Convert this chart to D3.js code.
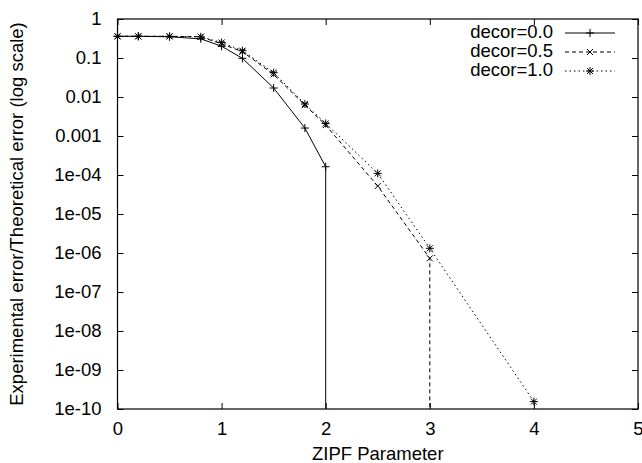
<!DOCTYPE html>
<html>
<head>
<meta charset="utf-8">
<script src="https://cdn.jsdelivr.net/npm/d3@7"></script>
<style>
  body { margin: 0; background: #fff; }
  svg { font-family: "Liberation Sans", Arial, sans-serif; }
</style>
</head>
<body>
<div id="chart"></div>
<script>
// values; a 0 means the curve drops to zero (off the log axis)
const xs0 = [0, 0.2, 0.5, 0.8, 1.0, 1.2, 1.5, 1.8, 2.0, 2.0];
const decor00 = [0.36, 0.36, 0.35, 0.31, 0.20, 0.098, 0.017, 0.0016, 1.63e-4, 0];

const xs05 = [0, 0.2, 0.5, 0.8, 1.0, 1.2, 1.5, 1.8, 2.0, 2.5, 3.0, 3.0];
const decor05 = [0.36, 0.36, 0.36, 0.35, 0.23, 0.145, 0.038, 0.0062, 0.0019, 5.2e-5, 7.3e-7, 0];

const xs10 = [0, 0.2, 0.5, 0.8, 1.0, 1.2, 1.5, 1.8, 2.0, 2.5, 3.0, 4.0];
const decor10 = [0.36, 0.36, 0.36, 0.35, 0.25, 0.154, 0.042, 0.0066, 0.0021, 1.1e-4, 1.32e-6, 1.55e-10];

const seriesNames = ["decor=0.0", "decor=0.5", "decor=1.0"];
const xTicks = [0, 1, 2, 3, 4, 5];
const yTicks = [1, 1e-1, 1e-2, 1e-3, 1e-4, 1e-5, 1e-6, 1e-7, 1e-8, 1e-9, 1e-10];
const yTickLabels = ["1", "0.1", "0.01", "0.001", "1e-04", "1e-05", "1e-06", "1e-07", "1e-08", "1e-09", "1e-10"];

const WIDTH = 642, HEIGHT = 463;
const LEFT = 117.5, RIGHT = 638, TOP = 19, BOTTOM = 409;
const TICK = 6;
const FONT = 18.5;

const series = [
    {name: seriesNames[0], xs: xs0, ys: decor00, dash: null, marker: "plus"},
    {name: seriesNames[1], xs: xs05, ys: decor05, dash: "4,3", marker: "cross"},
    {name: seriesNames[2], xs: xs10, ys: decor10, dash: "1.5,3", marker: "star"}
];

const x = d3.scaleLinear().domain([0, 5]).range([LEFT, RIGHT]);
const y = d3.scaleLog().domain([1e-10, 1]).range([BOTTOM, TOP]).clamp(true);

const svg = d3.select("#chart").append("svg")
    .attr("width", WIDTH)
    .attr("height", HEIGHT);

// axes with inward ticks, mirrored on top and right
const yLabel = d => yTickLabels[yTicks.indexOf(d)];

const gLeft = svg.append("g")
    .attr("transform", `translate(${LEFT},0)`)
    .call(d3.axisLeft(y).tickValues(yTicks).tickFormat(yLabel).tickSize(-TICK).tickPadding(16));
const gBottom = svg.append("g")
    .attr("transform", `translate(0,${BOTTOM})`)
    .call(d3.axisBottom(x).tickValues(xTicks).tickFormat(d3.format("d")).tickSize(-TICK).tickPadding(13));
const gRight = svg.append("g")
    .attr("transform", `translate(${RIGHT},0)`)
    .call(d3.axisRight(y).tickValues(yTicks).tickFormat("").tickSize(-TICK));
const gTop = svg.append("g")
    .attr("transform", `translate(0,${TOP})`)
    .call(d3.axisTop(x).tickValues(xTicks).tickFormat("").tickSize(-TICK));

[gLeft, gBottom, gRight, gTop].forEach(g => {
    g.select(".domain").remove();
    g.selectAll("line").attr("stroke", "#000");
    g.selectAll("text").attr("font-size", FONT).attr("fill", "#000")
        .attr("font-family", "Liberation Sans, Arial, sans-serif");
});

svg.append("rect")
    .attr("x", LEFT).attr("y", TOP)
    .attr("width", RIGHT - LEFT).attr("height", BOTTOM - TOP)
    .attr("fill", "none").attr("stroke", "#000").attr("stroke-width", 1.2);

// axis titles
svg.append("text")
    .attr("x", (LEFT + RIGHT) / 2).attr("y", 455)
    .attr("text-anchor", "middle").attr("dominant-baseline", "middle")
    .attr("font-size", FONT)
    .text("ZIPF Parameter");

svg.append("text")
    .attr("transform", `translate(18,${(TOP + BOTTOM) / 2}) rotate(-90)`)
    .attr("text-anchor", "middle").attr("dominant-baseline", "middle")
    .attr("font-size", FONT)
    .text("Experimental error/Theoretical error (log scale)");

function drawMarker(g, type, cx, cy) {
    const r = 4;
    const segs = [];
    if (type === "plus" || type === "star") {
        segs.push([cx - r, cy, cx + r, cy], [cx, cy - r, cx, cy + r]);
    }
    if (type === "cross" || type === "star") {
        segs.push([cx - r * 0.75, cy - r * 0.75, cx + r * 0.75, cy + r * 0.75],
                  [cx - r * 0.75, cy + r * 0.75, cx + r * 0.75, cy - r * 0.75]);
    }
    segs.forEach(s => g.append("line")
        .attr("x1", s[0]).attr("y1", s[1]).attr("x2", s[2]).attr("y2", s[3])
        .attr("stroke", "#000").attr("stroke-width", 1));
}

const line = d3.line().x(d => x(d[0])).y(d => y(d[1]));

series.forEach(s => {
    const pts = s.xs.map((xv, i) => [xv, s.ys[i]]);
    const g = svg.append("g");
    g.append("path")
        .attr("d", line(pts))
        .attr("fill", "none")
        .attr("stroke", "#000")
        .attr("stroke-width", 1)
        .attr("stroke-dasharray", s.dash);
    pts.filter(p => p[1] > 0).forEach(p => drawMarker(g, s.marker, x(p[0]), y(p[1])));
});

// legend, top right inside the plot
const legend = svg.append("g");
series.forEach((s, i) => {
    const ly = 33 + i * 19;
    legend.append("text")
        .attr("x", 553).attr("y", ly)
        .attr("text-anchor", "end").attr("dominant-baseline", "middle")
        .attr("font-size", FONT)
        .text(s.name);
    legend.append("line")
        .attr("x1", 565).attr("y1", ly).attr("x2", 615).attr("y2", ly)
        .attr("stroke", "#000").attr("stroke-width", 1)
        .attr("stroke-dasharray", s.dash);
    drawMarker(legend, s.marker, 590, ly);
});
</script>
</body>
</html>
